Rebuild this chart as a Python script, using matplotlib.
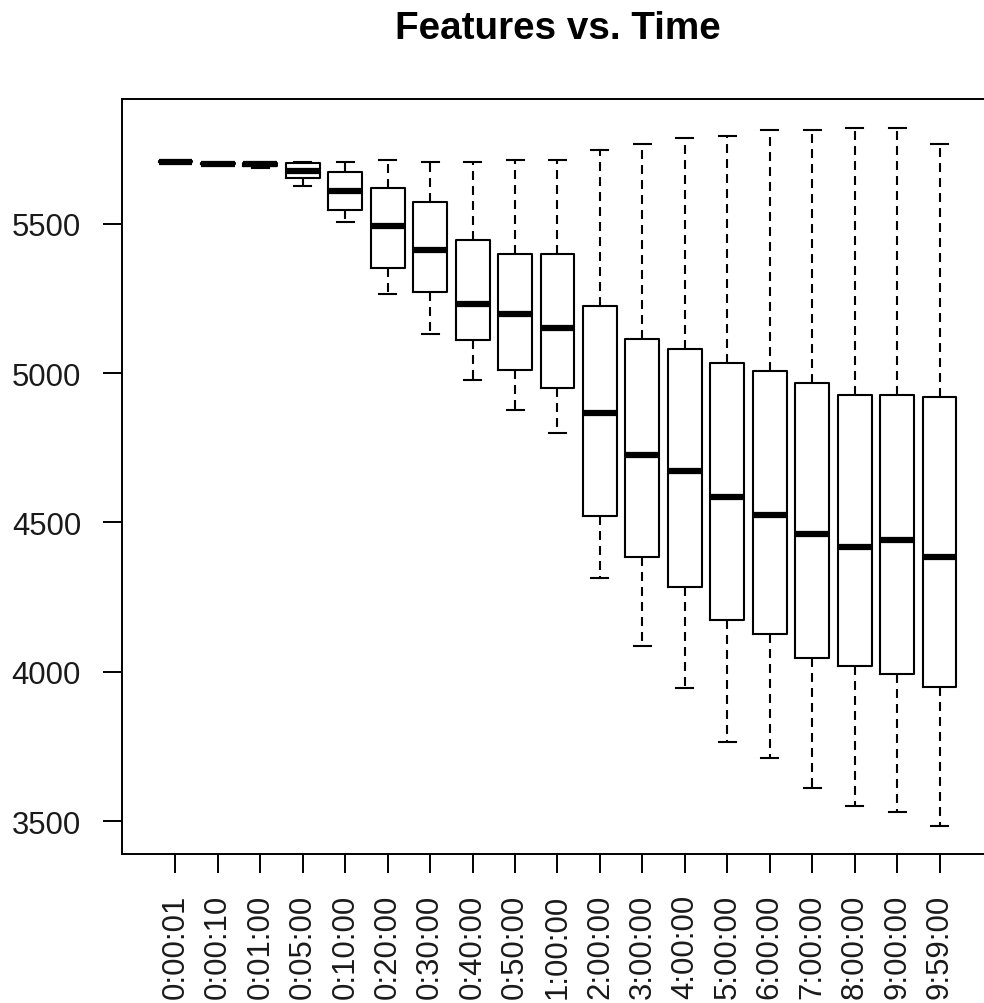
import matplotlib.pyplot as plt

# time points and the five-number summaries
labels = ["0:00:01", "0:00:10", "0:01:00", "0:05:00", "0:10:00", "0:20:00",
          "0:30:00", "0:40:00", "0:50:00", "1:00:00", "2:00:00", "3:00:00",
          "4:00:00", "5:00:00", "6:00:00", "7:00:00", "8:00:00", "9:00:00",
          "9:59:00"]
whis_hi = [5710, 5703, 5703, 5708, 5708, 5714, 5708, 5708, 5715, 5715,
           5747, 5768, 5789, 5793, 5815, 5815, 5822, 5822, 5768]
q3 = [5710, 5703, 5703, 5704, 5674, 5621, 5574, 5445, 5399, 5399,
      5224, 5114, 5082, 5034, 5008, 4968, 4928, 4928, 4920]
medians = [5708, 5701, 5699, 5677, 5610, 5492, 5413, 5233, 5198, 5151,
           4868, 4725, 4673, 4587, 4525, 4463, 4418, 4443, 4383]
q1 = [5706, 5699, 5694, 5654, 5548, 5352, 5271, 5111, 5010, 4950,
      4523, 4383, 4283, 4175, 4127, 4047, 4020, 3994, 3948]
whis_lo = [5705, 5698, 5688, 5628, 5507, 5266, 5131, 4977, 4875, 4801,
           4315, 4087, 3946, 3766, 3710, 3610, 3551, 3532, 3484]

plt.rcParams['font.family'] = ['Liberation Sans', 'DejaVu Sans']

stats = []
for i, lab in enumerate(labels):
    stats.append({"label": lab, "med": medians[i], "q1": q1[i], "q3": q3[i],
                  "whislo": whis_lo[i], "whishi": whis_hi[i], "fliers": []})

fig = plt.figure(figsize=(9.84, 10.04), dpi=100)
W, H = 984, 1004
# plot region runs past the right edge of the picture, as in the original
ax = fig.add_axes([122 / W, 1 - 855 / H, (993 - 122) / W, (855 - 100) / H])

ax.bxp(stats, positions=range(1, len(labels) + 1), widths=0.8,
       boxprops=dict(color="black", linewidth=1.5),
       medianprops=dict(color="black", linewidth=4.5, solid_capstyle="butt"),
       whiskerprops=dict(color="black", linewidth=1.5, linestyle=(0, (4.3, 2.9))),
       capprops=dict(color="black", linewidth=1.5),
       showfliers=False)

ax.set_xlim(-0.26, 20.26)
ax.set_ylim(3390, 5918)
ax.set_yticks([3500, 4000, 4500, 5000, 5500])
ax.set_xticks(range(1, len(labels) + 1))
ax.set_xticklabels(labels, rotation=90)
ax.tick_params(axis="both", labelsize=22.4, length=13.5, width=1.4,
               color="black", labelcolor="#1a1a1a")
ax.tick_params(axis="y", pad=16)
ax.tick_params(axis="x", pad=15)
for sp in ax.spines.values():
    sp.set_linewidth(1.4)
    sp.set_color("black")

ax.set_title("Features vs. Time", fontsize=27.8, fontweight="bold", pad=44)

fig.savefig("out.png", dpi=100)
